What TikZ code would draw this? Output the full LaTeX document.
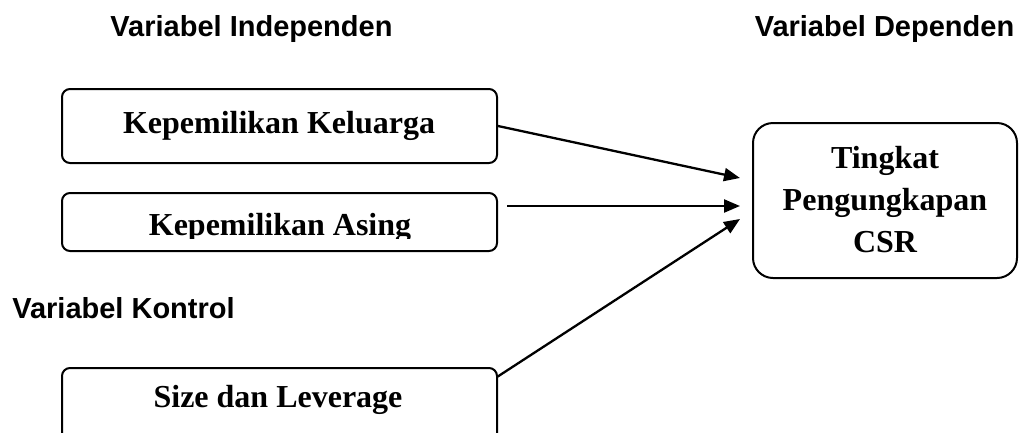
\documentclass[tikz,border=0pt]{standalone}
\usepackage{fontspec}
\setmainfont{Liberation Serif}
\newfontfamily\arialfont{Liberation Sans}
\usetikzlibrary{arrows.meta}
\begin{document}
\begin{tikzpicture}[x=1pt,y=-1pt,
  box/.style={draw,line width=2pt,rounded corners=8pt,inner sep=0pt},
  hdr/.style={font=\arialfont\bfseries\fontsize{29}{34}\selectfont,anchor=base,inner sep=0pt},
  lbl/.style={font=\bfseries\fontsize{32}{42}\selectfont,anchor=base,inner sep=0pt},
  arr/.style={line width=2.3pt,-{Triangle[length=16pt,width=13pt]}}]
\useasboundingbox (0,0) rectangle (1019,432);
\clip (0,0) rectangle (1019,432);
% headers
\node[hdr] (hind) at (251.5,36) {Variabel Independen};
\node[hdr] (hdep) at (884.5,36) {Variabel Dependen};
\node[hdr] (hkon) at (123.5,318) {Variabel Kontrol};
% boxes
\node[box,minimum width=435pt,minimum height=74pt] (kk) at (279.5,126) {};
\node[box,minimum width=435pt,minimum height=58pt] (ka) at (279.5,222) {};
\node[box,minimum width=435pt,minimum height=82pt] (sl) at (279.5,409) {};
\node[box,rounded corners=20pt,minimum width=264pt,minimum height=155pt] (csr) at (885,200.5) {};
% texts
\node[lbl] (tkk) at (279,133) {Kepemilikan Keluarga};
\begin{scope}
\clip (0,0) rectangle (1019,238);
\node[lbl] (tka) at (280,235) {Kepemilikan Asing};
\end{scope}
\node[lbl] (tsl) at (278,407) {Size dan Leverage};
\node[lbl] (c1) at (885,168) {Tingkat};
\node[lbl] (c2) at (885,210) {Pengungkapan};
\node[lbl] (c3) at (885,252) {CSR};
% arrows
\coordinate (t1) at (740,178);
\coordinate (t2) at (740,206);
\coordinate (t3) at (740,219);
\coordinate (s2) at (507,206);
\coordinate (s3) at (497,377);
\draw[arr] (kk.east) -- (t1);
\draw[arr] (s2) -- (t2);
\draw[arr] (s3) -- (t3);
\end{tikzpicture}
\end{document}
